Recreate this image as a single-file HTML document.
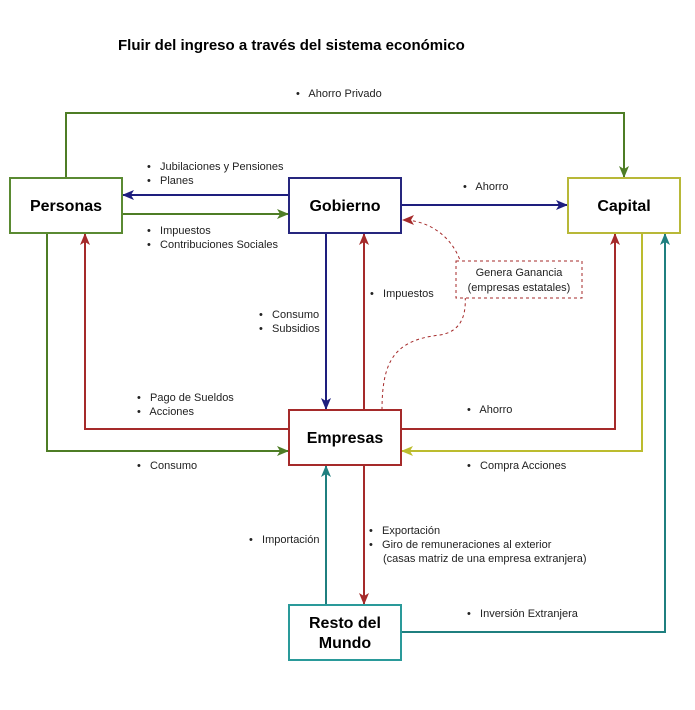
<!DOCTYPE html>
<html><head><meta charset="utf-8"><style>
html,body{margin:0;padding:0;background:#fff}
svg{display:block}
text{font-family:"Liberation Sans",Arial,sans-serif;white-space:pre}
.l{font-size:11px;fill:#222}
.b{font-size:16px;font-weight:bold;fill:#000;text-anchor:middle}
</style></head><body>
<svg width="695" height="710" viewBox="0 0 695 710" xmlns="http://www.w3.org/2000/svg">
<defs>
<marker id="ag" markerWidth="12" markerHeight="12" refX="11" refY="6" orient="auto" markerUnits="userSpaceOnUse"><path d="M0,1 L12,6 L0,11 L3,6z" fill="#4e7d25"/></marker>
<marker id="ab" markerWidth="12" markerHeight="12" refX="11" refY="6" orient="auto" markerUnits="userSpaceOnUse"><path d="M0,1 L12,6 L0,11 L3,6z" fill="#1e1e7e"/></marker>
<marker id="ar" markerWidth="12" markerHeight="12" refX="11" refY="6" orient="auto" markerUnits="userSpaceOnUse"><path d="M0,1 L12,6 L0,11 L3,6z" fill="#a52a2a"/></marker>
<marker id="ay" markerWidth="12" markerHeight="12" refX="11" refY="6" orient="auto" markerUnits="userSpaceOnUse"><path d="M0,1 L12,6 L0,11 L3,6z" fill="#bcbc2e"/></marker>
<marker id="at" markerWidth="12" markerHeight="12" refX="11" refY="6" orient="auto" markerUnits="userSpaceOnUse"><path d="M0,1 L12,6 L0,11 L3,6z" fill="#1f7f7f"/></marker>
</defs>
<text x="118" y="50" style="font-size:15px;font-weight:bold">Fluir del ingreso a través del sistema económico</text>
<g fill="none" stroke-width="2">
<path d="M66,178 V113 H624 V177" stroke="#4e7d25" marker-end="url(#ag)"/>
<path d="M289,195 H123" stroke="#1e1e7e" marker-end="url(#ab)"/>
<path d="M122,214 H288" stroke="#4e7d25" marker-end="url(#ag)"/>
<path d="M401,205 H567" stroke="#1e1e7e" marker-end="url(#ab)"/>
<path d="M326,233 V409" stroke="#1e1e7e" marker-end="url(#ab)"/>
<path d="M364,410 V234" stroke="#a52a2a" marker-end="url(#ar)"/>
<path d="M47,233 V451 H288" stroke="#4e7d25" marker-end="url(#ag)"/>
<path d="M289,429 H85 V234" stroke="#a52a2a" marker-end="url(#ar)"/>
<path d="M401,429 H615 V234" stroke="#a52a2a" marker-end="url(#ar)"/>
<path d="M642,233 V451 H402" stroke="#bcbc2e" marker-end="url(#ay)"/>
<path d="M326,605 V466" stroke="#1f7f7f" marker-end="url(#at)"/>
<path d="M364,465 V604" stroke="#a52a2a" marker-end="url(#ar)"/>
<path d="M401,632 H665 V234" stroke="#1f7f7f" marker-end="url(#at)"/>
<path d="M382,410 C382,360 395,340 440,335 C470,330 465,300 465,290 C465,240 430,220 403,220" stroke="#a52a2a" stroke-width="1" stroke-dasharray="3,3" marker-end="url(#ar)"/>
</g>
<rect x="456" y="261" width="126" height="37" fill="#fff" stroke="#a52a2a" stroke-dasharray="3,3"/>
<text x="519" y="276" class="l" text-anchor="middle">Genera Ganancia</text>
<text x="519" y="291" class="l" text-anchor="middle">(empresas estatales)</text>
<g stroke-width="2" fill="#fff">
<rect x="10" y="178" width="112" height="55" stroke="#5a8a32"/>
<rect x="289" y="178" width="112" height="55" stroke="#26267e"/>
<rect x="568" y="178" width="112" height="55" stroke="#b8b838"/>
<rect x="289" y="410" width="112" height="55" stroke="#a52a2a"/>
<rect x="289" y="605" width="112" height="55" stroke="#2a9a9a"/>
</g>
<text x="66" y="211" class="b">Personas</text>
<text x="345" y="211" class="b">Gobierno</text>
<text x="624" y="211" class="b">Capital</text>
<text x="345" y="443" class="b">Empresas</text>
<text x="345" y="628" class="b">Resto del</text>
<text x="345" y="648" class="b">Mundo</text>
<g class="l">
<text x="296" y="97">•   Ahorro Privado</text>
<text x="147" y="170">•   Jubilaciones y Pensiones</text>
<text x="147" y="184">•   Planes</text>
<text x="147" y="234">•   Impuestos</text>
<text x="147" y="248">•   Contribuciones Sociales</text>
<text x="463" y="190">•   Ahorro</text>
<text x="370" y="297">•   Impuestos</text>
<text x="259" y="318">•   Consumo</text>
<text x="259" y="332">•   Subsidios</text>
<text x="137" y="401">•   Pago de Sueldos</text>
<text x="137" y="415">•   Acciones</text>
<text x="467" y="413">•   Ahorro</text>
<text x="137" y="469">•   Consumo</text>
<text x="467" y="469">•   Compra Acciones</text>
<text x="249" y="543">•   Importación</text>
<text x="369" y="534">•   Exportación</text>
<text x="369" y="548">•   Giro de remuneraciones al exterior</text>
<text x="383" y="562">(casas matriz de una empresa extranjera)</text>
<text x="467" y="617">•   Inversión Extranjera</text>
</g>
</svg>
</body></html>
